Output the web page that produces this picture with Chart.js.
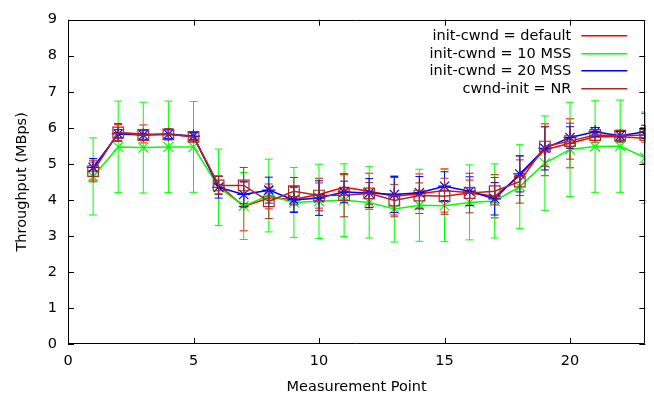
<!DOCTYPE html>
<html>
<head>
<meta charset="utf-8">
<script src="https://cdn.jsdelivr.net/npm/chart.js@4.4.1/dist/chart.umd.min.js"></script>
<style>
  body { margin: 0; background: #fff; }
</style>
</head>
<body>
<canvas id="myChart" width="654" height="396"></canvas>
<script>
// Measurement points on the x axis
const points = [1, 2, 3, 4, 5, 6, 7, 8, 9, 10, 11, 12, 13, 14, 15, 16, 17, 18, 19, 20, 21, 22, 23];

// Series labels (legend text)
const labels = ["init-cwnd = default", "init-cwnd = 10 MSS", "init-cwnd = 20 MSS", "cwnd-init = NR"];

// Mean throughput (MBps) per series
const defaultMean = [4.80, 5.87, 5.83, 5.82, 5.75, 4.42, 3.82, 4.05, 4.02, 4.15, 4.35, 4.24, 4.10, 4.17, 4.26, 4.20, 4.10, 4.67, 5.39, 5.57, 5.75, 5.75, 5.71];
const mss10Mean   = [4.65, 5.47, 5.45, 5.47, 5.47, 4.35, 3.83, 4.12, 3.93, 3.96, 3.99, 3.93, 3.75, 3.85, 3.84, 3.93, 3.97, 4.37, 5.02, 5.40, 5.48, 5.49, 5.17];
const mss20Mean   = [4.90, 5.83, 5.80, 5.82, 5.77, 4.35, 4.15, 4.27, 4.00, 4.05, 4.22, 4.19, 4.15, 4.20, 4.38, 4.24, 4.03, 4.72, 5.43, 5.73, 5.89, 5.78, 5.89];
const nrMean      = [4.80, 5.87, 5.80, 5.82, 5.75, 4.40, 4.40, 3.96, 4.24, 4.12, 4.13, 4.18, 3.98, 4.12, 4.10, 4.19, 4.24, 4.51, 5.48, 5.63, 5.80, 5.78, 5.80];

// Error bar half widths (MBps) per series
const defaultErr = [0.25, 0.22, 0.25, 0.15, 0.12, 0.25, 0.68, 0.30, 0.35, 0.45, 0.35, 0.50, 0.52, 0.55, 0.60, 0.35, 0.60, 0.55, 0.72, 0.68, 0.15, 0.15, 0.69];
const mss10Err   = [1.07, 1.27, 1.26, 1.27, 1.26, 1.06, 0.93, 1.01, 0.97, 1.03, 1.01, 0.99, 0.92, 1.00, 1.00, 1.04, 1.03, 1.16, 1.31, 1.31, 1.27, 1.28, 1.27];
const mss20Err   = [0.25, 0.12, 0.12, 0.12, 0.10, 0.30, 0.35, 0.36, 0.35, 0.48, 0.30, 0.40, 0.50, 0.45, 0.40, 0.40, 0.45, 0.50, 0.60, 0.30, 0.12, 0.12, 0.18];
const nrErr      = [0.30, 0.25, 0.15, 0.15, 0.10, 0.25, 0.50, 0.48, 0.38, 0.35, 0.60, 0.30, 0.45, 0.35, 0.50, 0.55, 0.38, 0.60, 0.55, 0.50, 0.15, 0.15, 0.20];

// Series colours
const colors = ['#ff0000', '#00ff00', '#0000ff', '#a52a2a'];

// Axis ticks
const xTickStep = 5;
const yTickStep = 1;

const FONT = "'DejaVu Sans', sans-serif";
const FSIZE = 14.5;

function toXY(values) {
    return points.map((p, i) => ({ x: p, y: values[i] }));
}

// Draws the vertical error bars of a dataset just before the dataset itself
const errorBars = {
    id: 'errorBars',
    beforeDatasetDraw(chart, args) {
        const ds = chart.data.datasets[args.index];
        const yScale = chart.scales.y;
        const area = chart.chartArea;
        const ctx = chart.ctx;
        ctx.save();
        ctx.beginPath();
        ctx.rect(area.left, area.top, area.right - area.left, area.bottom - area.top);
        ctx.clip();
        ctx.strokeStyle = ds.borderColor;
        ctx.lineWidth = 1;
        args.meta.data.forEach((el, i) => {
            const v = ds.data[i].y;
            const e = ds.errors[i];
            const top = yScale.getPixelForValue(v + e);
            const bot = yScale.getPixelForValue(v - e);
            ctx.beginPath();
            ctx.moveTo(el.x, top);
            ctx.lineTo(el.x, bot);
            ctx.moveTo(el.x - 4, top);
            ctx.lineTo(el.x + 4, top);
            ctx.moveTo(el.x - 4, bot);
            ctx.lineTo(el.x + 4, bot);
            ctx.stroke();
        });
        ctx.restore();
    }
};

// Border box with inward ticks on all four sides, plus the gnuplot style key
const frame = {
    id: 'frame',
    afterDraw(chart) {
        const ctx = chart.ctx;
        const a = chart.chartArea;
        const xs = chart.scales.x;
        const ys = chart.scales.y;
        ctx.save();
        ctx.strokeStyle = '#000';
        ctx.lineWidth = 1;
        ctx.beginPath();
        ctx.rect(Math.round(a.left) + 0.5, Math.round(a.top) + 0.5,
                 Math.round(a.right - a.left) - 1, Math.round(a.bottom - a.top) - 1);
        ctx.stroke();

        ctx.beginPath();
        ys.ticks.forEach(t => {
            const y = Math.round(ys.getPixelForValue(t.value)) + 0.5;
            ctx.moveTo(a.left, y); ctx.lineTo(a.left + 6, y);
            ctx.moveTo(a.right, y); ctx.lineTo(a.right - 6, y);
        });
        xs.ticks.forEach(t => {
            const x = Math.round(xs.getPixelForValue(t.value)) + 0.5;
            ctx.moveTo(x, a.bottom); ctx.lineTo(x, a.bottom - 6);
            ctx.moveTo(x, a.top); ctx.lineTo(x, a.top + 6);
        });
        ctx.stroke();

        // key
        ctx.font = FSIZE + "px " + FONT;
        ctx.textAlign = 'right';
        ctx.textBaseline = 'middle';
        chart.data.datasets.forEach((ds, i) => {
            const y = Math.round(a.top + 15.5 + i * 17.6);
            ctx.fillStyle = '#000';
            ctx.fillText(ds.label, a.right - 74, y + 1);
            ctx.fillStyle = colors[i];
            ctx.fillRect(a.right - 64, y, 46, 1.5);
        });
        ctx.restore();
    }
};

function series(label, values, errs, color, style, radius, order) {
    return {
        label: label,
        data: toXY(values),
        errors: errs,
        borderColor: color,
        backgroundColor: color,
        borderWidth: 1.5,
        pointStyle: style,
        pointRadius: radius,
        pointHoverRadius: radius,
        pointBorderColor: color,
        pointBackgroundColor: 'rgba(0,0,0,0)',
        pointBorderWidth: 1.2,
        tension: 0,
        order: order
    };
}

const chart = new Chart("myChart", {
    type: "line",
    data: {
        datasets: [
            series(labels[0], defaultMean, defaultErr, colors[0], 'cross', 5, 4),
            series(labels[1], mss10Mean, mss10Err, colors[1], 'crossRot', 7, 3),
            series(labels[2], mss20Mean, mss20Err, colors[2], 'star', 6.5, 2),
            series(labels[3], nrMean, nrErr, colors[3], 'rect', 7.5, 1)
        ]
    },
    plugins: [errorBars, frame],
    options: {
        responsive: false,
        animation: false,
        devicePixelRatio: 1,
        layout: { padding: { top: 17, right: 8, left: 0, bottom: 0 } },
        plugins: {
            legend: { display: false },
            tooltip: { enabled: false }
        },
        scales: {
            x: {
                type: 'linear',
                min: 0,
                max: 23,
                grid: { display: false, drawTicks: false },
                border: { display: false },
                ticks: {
                    stepSize: xTickStep,
                    includeBounds: false,
                    color: '#000',
                    padding: 9,
                    maxRotation: 0,
                    font: { family: FONT, size: FSIZE }
                },
                title: {
                    display: true,
                    text: 'Measurement Point',
                    color: '#000',
                    padding: { top: 0, bottom: 0 },
                    font: { family: FONT, size: FSIZE }
                },
                afterFit(scale) { scale.height = 52; }
            },
            y: {
                min: 0,
                max: 9,
                grid: { display: false, drawTicks: false },
                border: { display: false },
                ticks: {
                    stepSize: yTickStep,
                    color: '#000',
                    padding: 11,
                    font: { family: FONT, size: FSIZE }
                },
                title: {
                    display: true,
                    text: 'Throughput (MBps)',
                    color: '#000',
                    padding: { top: 14, bottom: 0 },
                    font: { family: FONT, size: FSIZE }
                },
                afterFit(scale) { scale.width = 68; }
            }
        }
    }
});
</script>
</body>
</html>
